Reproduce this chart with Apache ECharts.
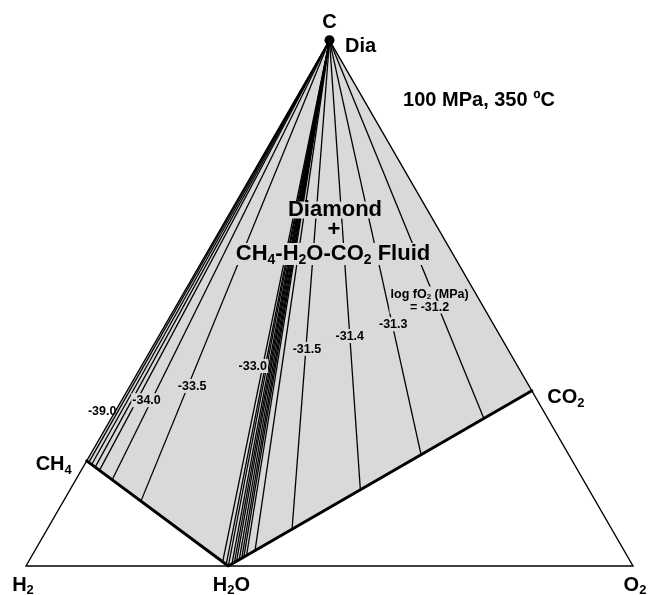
<!DOCTYPE html>
<html>
<head>
<meta charset="utf-8">
<script src="https://cdn.jsdelivr.net/npm/echarts@6/dist/echarts.min.js"></script>
<style>
  html, body { margin: 0; padding: 0; background: #ffffff; }
  #chart { width: 648px; height: 595px; }
</style>
</head>
<body>
<div id="chart"></div>
<script>
// End-member compositions: atomic fractions of C and O (H is the remainder)
const speciesNames = ['C', 'H2', 'O2', 'CH4', 'H2O', 'CO2'];
const speciesXC = [1, 0, 0, 0.2, 0, 1 / 3];
const speciesXO = [0, 0, 1, 0, 1 / 3, 2 / 3];

// Fluids coexisting with diamond, as positions along the CH4 - H2O - CO2 join
// (0 = CH4, 1 = H2O, 2 = CO2); each one is joined to C by a tie line
const fluidJoinPos = [0.015, 0.035, 0.06, 0.09, 0.18, 0.383, 0.96, 0.985, 1.0,
  1.012, 1.02, 1.027, 1.036, 1.044, 1.051, 1.06, 1.088, 1.21, 1.435, 1.635, 1.842];

// Tie lines carrying a log fO2 (MPa) label
const labelJoinPos = [0.015, 0.18, 0.383, 0.96, 1.21, 1.435, 1.635, 1.842];
const labelLogFO2 = [-39.0, -34.0, -33.5, -33.0, -31.5, -31.4, -31.3, -31.2];

// Label placement: fraction of the way down each tie line, and a pixel nudge
const labelAlong = [0.878, 0.819, 0.75, 0.6245, 0.631, 0.658, 0.685, 0.687];
const labelNudge = [[-16, 0], [-5, 0], [4, 0], [-10, 0], [1, 0], [0, 0], [1, 0], [-6, 0]];

const SQ3 = Math.sqrt(3) / 2;
const FONT = '"Liberation Sans", Arial, Helvetica, sans-serif';
const FILL = '#d9d9d9';

function toXY(xC, xO) { return [xO + xC / 2, xC * SQ3]; }
function idx(name) { return speciesNames.indexOf(name); }
function species(name) { const i = idx(name); return toXY(speciesXC[i], speciesXO[i]); }
function joinPoint(p) {
  const a = idx(p <= 1 ? 'CH4' : 'H2O');
  const b = idx(p <= 1 ? 'H2O' : 'CO2');
  const u = p <= 1 ? p : p - 1;
  return toXY(speciesXC[a] + u * (speciesXC[b] - speciesXC[a]),
              speciesXO[a] + u * (speciesXO[b] - speciesXO[a]));
}

const C = species('C');
const tieData = fluidJoinPos.map(p => C.concat(joinPoint(p)));
const labelData = labelJoinPos.map((p, i) => {
  const e = joinPoint(p), f = labelAlong[i];
  const v = labelLogFO2[i].toFixed(1);
  const text = i === labelJoinPos.length - 1
    ? '{a|log fO}{s|2}{a| (MPa)}\n{a|= ' + v + '}'
    : '{a|' + v + '}';
  return {
    value: [C[0] + f * (e[0] - C[0]), C[1] + f * (e[1] - C[1])],
    label: { formatter: text, offset: labelNudge[i],
             backgroundColor: i === 0 ? 'transparent' : FILL }
  };
});

// Vertex names with subscripts
const vertexLabels = [
  { name: 'C',   text: '{m|C}',             nudge: [0, -18] },
  { name: 'CH4', text: '{m|CH}{s|4}',       nudge: [-33, 4] },
  { name: 'CO2', text: '{m|CO}{s|2}',       nudge: [34, 7] },
  { name: 'H2',  text: '{m|H}{s|2}',        nudge: [-3, 19] },
  { name: 'H2O', text: '{m|H}{s|2}{m|O}',   nudge: [3, 19] },
  { name: 'O2',  text: '{m|O}{s|2}',        nudge: [2, 19] }
];

// main glyphs sit at the top of the line box, subscripts are pushed below the baseline
function subRich(main, sub, drop, color) {
  return {
    m: { fontSize: main, fontWeight: 'bold', fontFamily: FONT, color: color, fill: color,
         lineHeight: main, verticalAlign: 'top' },
    s: { fontSize: sub, fontWeight: 'bold', fontFamily: FONT, color: color, fill: color,
         lineHeight: sub, verticalAlign: 'top', padding: [drop, 0, 0, 0] }
  };
}

const chart = echarts.init(document.getElementById('chart'), null, { renderer: 'canvas' });

chart.setOption({
  animation: false,
  backgroundColor: '#ffffff',
  grid: { left: 26, right: 15, top: 40.3, bottom: 29 },
  xAxis: { type: 'value', min: 0, max: 1, show: false },
  yAxis: { type: 'value', min: 0, max: SQ3, show: false },
  series: [
    {
      // diamond + fluid field
      type: 'custom', z: 1, silent: true,
      data: [[0, 0]],
      renderItem: (params, api) => ({
        type: 'polygon',
        shape: { points: ['C', 'CH4', 'H2O', 'CO2'].map(n => api.coord(species(n))) },
        style: { fill: FILL, stroke: null }
      })
    },
    {
      // tie lines from diamond to the fluid compositions
      type: 'custom', z: 2, silent: true,
      encode: { x: [0, 2], y: [1, 3] },
      data: tieData,
      renderItem: (params, api) => {
        const a = api.coord([api.value(0), api.value(1)]);
        const b = api.coord([api.value(2), api.value(3)]);
        return {
          type: 'line',
          shape: { x1: a[0], y1: a[1], x2: b[0], y2: b[1] },
          style: { stroke: '#000', lineWidth: 1.3 }
        };
      }
    },
    {
      // C - H - O triangle
      type: 'custom', z: 3, silent: true,
      data: [[0, 0]],
      renderItem: (params, api) => ({
        type: 'polygon',
        shape: { points: ['H2', 'O2', 'C'].map(n => api.coord(species(n))) },
        style: { fill: null, stroke: '#000', lineWidth: 1.4, lineJoin: 'miter' }
      })
    },
    {
      // CH4 - H2O - CO2 join
      type: 'line', z: 3, silent: true, symbol: 'none',
      data: ['CH4', 'H2O', 'CO2'].map(species),
      lineStyle: { color: '#000', width: 3, join: 'round', cap: 'round' }
    },
    {
      // log fO2 labels
      type: 'scatter', z: 4, silent: true,
      symbolSize: 1, itemStyle: { color: 'rgba(0,0,0,0)', opacity: 1 },
      data: labelData,
      label: {
        show: true, position: 'inside', padding: [1, 1, 0, 1], opacity: 1,
        rich: {
          a: { fontSize: 12.5, fontWeight: 'bold', fontFamily: FONT, color: '#000', lineHeight: 13 },
          s: { fontSize: 8, fontWeight: 'bold', fontFamily: FONT, color: '#000', lineHeight: 6, verticalAlign: 'bottom' }
        }
      }
    },
    {
      // diamond point
      type: 'scatter', z: 5, silent: true,
      symbol: 'circle', symbolSize: 10, itemStyle: { color: '#000', opacity: 1 },
      data: [{ value: C, label: { show: true, position: 'inside', offset: [31, 6], opacity: 1,
        formatter: 'Dia', fontSize: 20, fontWeight: 'bold', fontFamily: FONT, color: '#000' } }]
    },
    {
      // vertex names
      type: 'scatter', z: 5, silent: true,
      symbolSize: 1, itemStyle: { color: 'rgba(0,0,0,0)', opacity: 1 },
      data: vertexLabels.map(v => ({
        value: species(v.name),
        label: { formatter: v.text, offset: v.nudge }
      })),
      label: { show: true, position: 'inside', opacity: 1, rich: subRich(20, 13, 9, '#000') }
    }
  ],
  graphic: [
    {
      type: 'text', x: 479, y: 100, z: 10,
      style: { text: '100 MPa, 350 ºC', fontSize: 20, fontWeight: 'bold', fontFamily: FONT,
               fill: '#000', align: 'center', verticalAlign: 'middle' }
    },
    {
      type: 'text', x: 335, y: 210, z: 10,
      style: { text: 'Diamond', fontSize: 22, fontWeight: 'bold', fontFamily: FONT,
               fill: '#000', align: 'center', verticalAlign: 'middle',
               backgroundColor: FILL, padding: [0, 2], lineHeight: 17 }
    },
    {
      type: 'text', x: 334, y: 230, z: 10,
      style: { text: '+', fontSize: 22, fontWeight: 'bold', fontFamily: FONT,
               fill: '#000', align: 'center', verticalAlign: 'middle',
               backgroundColor: FILL, padding: [0, 1], lineHeight: 12 }
    },
    {
      type: 'text', x: 333, y: 254, z: 10,
      style: {
        text: '{m|CH}{s|4}{m|-H}{s|2}{m|O-CO}{s|2}{m| Fluid}',
        align: 'center', verticalAlign: 'middle',
        backgroundColor: FILL, padding: [0, 2],
        rich: subRich(22, 14, 10, '#000')
      }
    }
  ]
});
</script>
</body>
</html>
